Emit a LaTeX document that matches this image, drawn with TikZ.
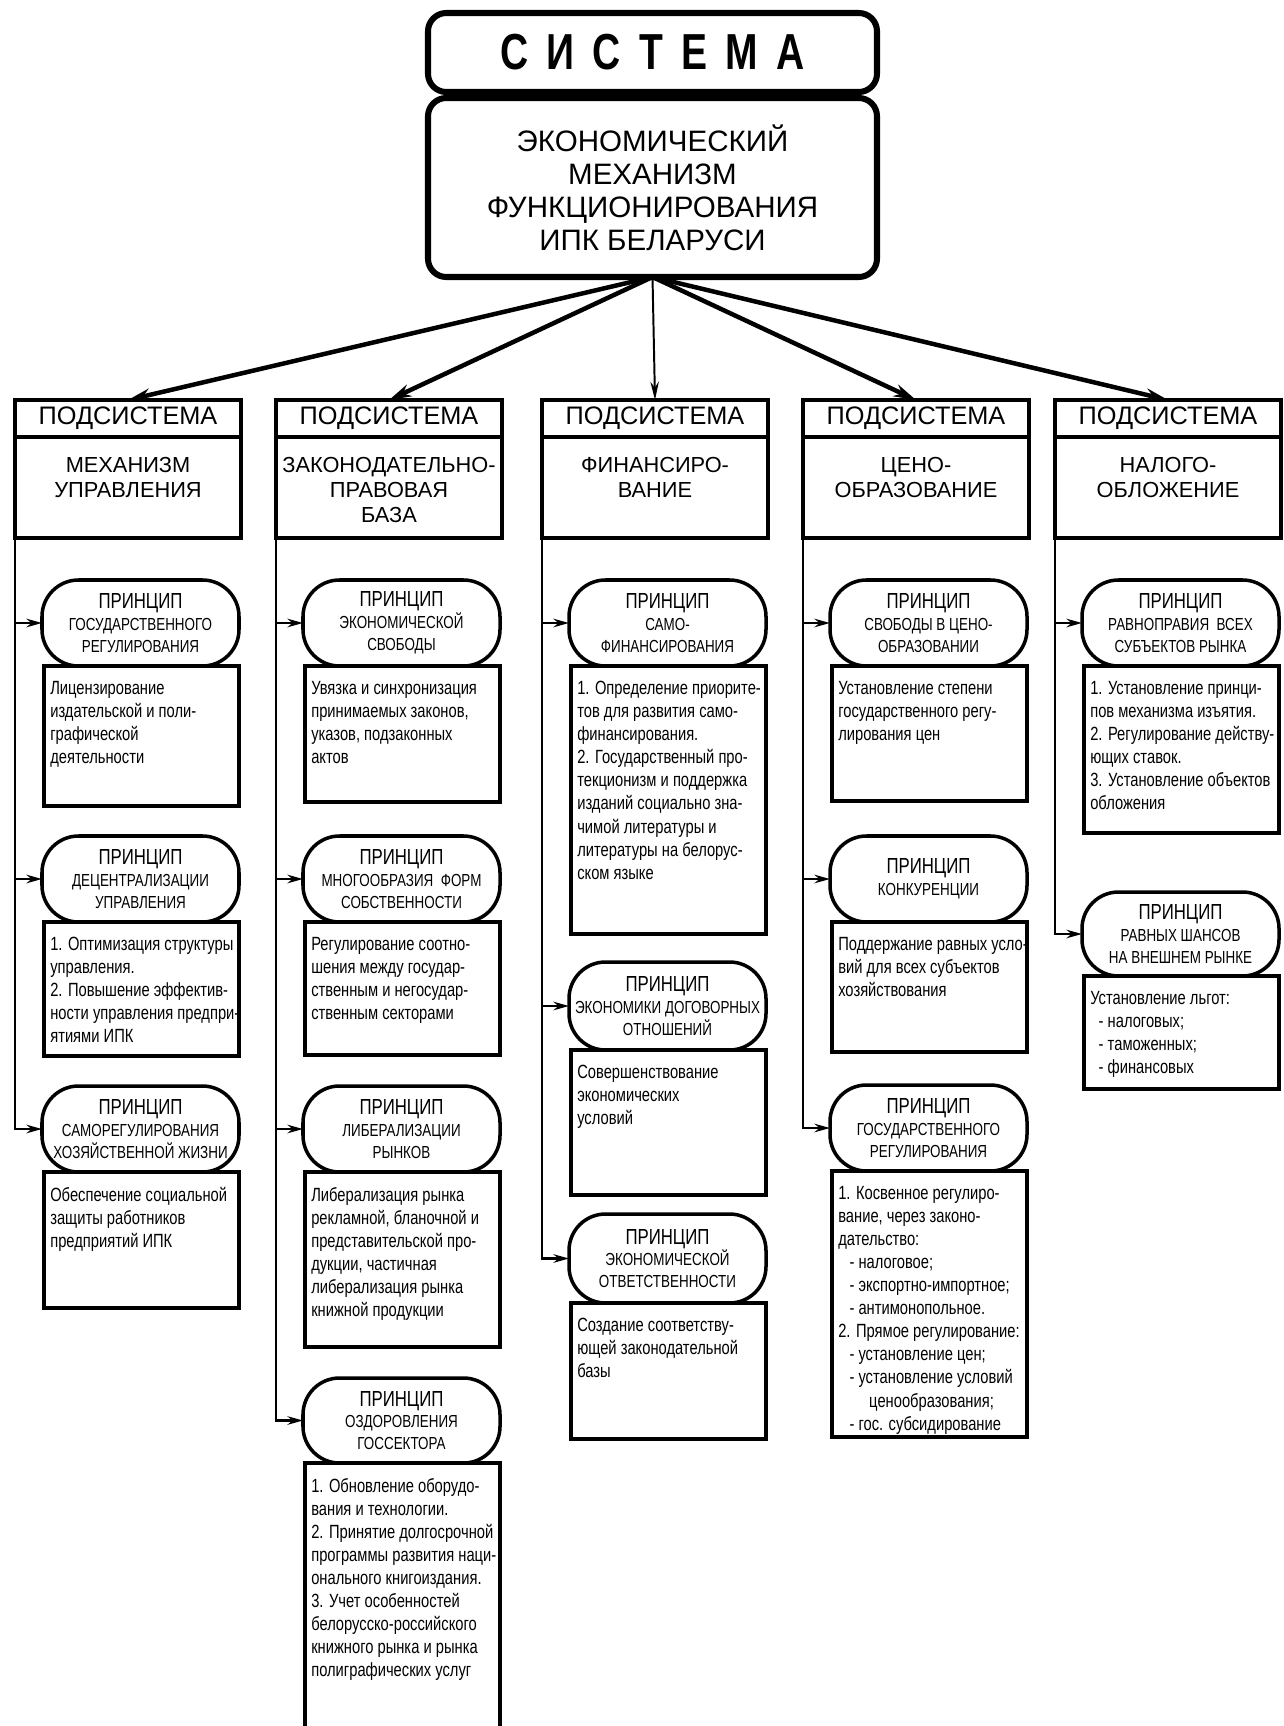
\documentclass[tikz,border=0pt]{standalone}
\usepackage{fontspec}
\setmainfont{Liberation Sans}
\newfontfamily\narfont[FakeStretch=0.77]{Liberation Sans}
\newfontfamily\sysfont[FakeStretch=0.77]{Liberation Sans}
\usetikzlibrary{arrows.meta}
\newlength\pxl
\setlength\pxl{0.025cm}
\newcommand\prn{{\fontsize{15.5}{16}\selectfont ПРИНЦИП}}

\begin{document}
\begin{tikzpicture}[x=0.025cm, y=-0.025cm,
    sysbox/.style={draw, line width=4.3pt, rounded corners=13pt, anchor=north west,
      inner sep=0pt, outer sep=0pt, minimum width=449*\pxl, align=center},
    head/.style={draw, line width=2.8pt, anchor=north west, inner sep=0pt, outer sep=0pt,
      minimum width=226*\pxl, minimum height=37*\pxl, font=\fontsize{18}{20}\selectfont},
    body/.style={draw, line width=2.8pt, anchor=north west, inner sep=0pt, outer sep=0pt,
      minimum width=226*\pxl, minimum height=101*\pxl},
    btxt/.style={anchor=north, align=center, inner sep=0pt, yshift=-20*\pxl,
      font=\fontsize{15.5}{17.8}\selectfont},
    princ/.style={draw, line width=2.5pt, rounded corners=26pt, anchor=north west,
      inner sep=0pt, outer sep=0pt, minimum width=197*\pxl, minimum height=86*\pxl,
      align=center, font=\narfont\fontsize{12.4}{15.5}\selectfont},
    tbox/.style={draw, line width=2.8pt, anchor=north west, inner sep=0pt, outer sep=0pt,
      minimum width=195*\pxl},
    ttxt/.style={anchor=north west, align=left, inner xsep=6*\pxl, inner ysep=15*\pxl,
      font=\narfont\fontsize{13.6}{16.4}\selectfont},
    link/.style={line width=2pt, -{Stealth[length=11pt, width=6pt]}},
    fan/.style={line width=3.2pt, -{Stealth[length=16pt, width=9pt]}},
    fanthin/.style={line width=1.4pt, -{Stealth[length=13pt, width=6pt]}}]

\useasboundingbox (0,0) rectangle (1283,1726);

% top of the scheme
\node[sysbox, minimum height=79*\pxl, font=\sysfont\bfseries\fontsize{36}{38}\selectfont] (sys) at (428,13)
  {С\hspace{13pt}И\hspace{13pt}С\hspace{13pt}Т\hspace{13pt}Е\hspace{13pt}М\hspace{13pt}А};
\node[sysbox, minimum height=179*\pxl, font=\fontsize{21}{23.5}\selectfont] (mech) at (428,98)
  {ЭКОНОМИЧЕСКИЙ\\МЕХАНИЗМ\\ФУНКЦИОНИРОВАНИЯ\\ИПК БЕЛАРУСИ};

% subsystems
\foreach \n/\x in {1/15, 2/276, 3/542, 4/803, 5/1055} {
  \node[head] (h\n) at (\x,400) {ПОДСИСТЕМА};
  \node[body] (s\n) at (\x,437) {};
}
\node[btxt] (s1x) at (s1.north) {МЕХАНИЗМ\\УПРАВЛЕНИЯ};
\node[btxt] (s2x) at (s2.north) {ЗАКОНОДАТЕЛЬНО-\\ПРАВОВАЯ\\БАЗА};
\node[btxt] (s3x) at (s3.north) {ФИНАНСИРО-\\ВАНИЕ};
\node[btxt] (s4x) at (s4.north) {ЦЕНО-\\ОБРАЗОВАНИЕ};
\node[btxt] (s5x) at (s5.north) {НАЛОГО-\\ОБЛОЖЕНИЕ};

\foreach \n in {1,2,4,5} \draw[fan] (mech.south) -- (h\n.north);
\draw[fanthin] (mech.south) -- (h3.north);

% column 1
\node[princ] (p11) at (42,580) {\prn\\ГОСУДАРСТВЕННОГО\\РЕГУЛИРОВАНИЯ};
\node[tbox, minimum height=140*\pxl] (t11) at (44,666) {};
\node[ttxt] (t11x) at (t11.north west) {Лицензирование\\издательской и поли-\\графической\\деятельности};
\node[princ] (p12) at (42,836) {\prn\\ДЕЦЕНТРАЛИЗАЦИИ\\УПРАВЛЕНИЯ};
\node[tbox, minimum height=134*\pxl] (t12) at (44,922) {};
\node[ttxt] (t12x) at (t12.north west) {1. Оптимизация структуры\\управления.\\2. Повышение эффектив-\\ности управления предпри-\\ятиями ИПК};
\node[princ] (p13) at (42,1086) {\prn\\САМОРЕГУЛИРОВАНИЯ\\ХОЗЯЙСТВЕННОЙ ЖИЗНИ};
\node[tbox, minimum height=136*\pxl] (t13) at (44,1172) {};
\node[ttxt] (t13x) at (t13.north west) {Обеспечение социальной\\защиты работников\\предприятий ИПК};

% column 2
\node[princ] (p21) at (303,580) {\prn\\ЭКОНОМИЧЕСКОЙ\\СВОБОДЫ};
\node[tbox, minimum height=136*\pxl] (t21) at (305,666) {};
\node[ttxt] (t21x) at (t21.north west) {Увязка и синхронизация\\принимаемых законов,\\указов, подзаконных\\актов};
\node[princ] (p22) at (303,836) {\prn\\МНОГООБРАЗИЯ~ ФОРМ\\СОБСТВЕННОСТИ};
\node[tbox, minimum height=133*\pxl] (t22) at (305,922) {};
\node[ttxt] (t22x) at (t22.north west) {Регулирование соотно-\\шения между государ-\\ственным и негосудар-\\ственным секторами};
\node[princ] (p23) at (303,1086) {\prn\\ЛИБЕРАЛИЗАЦИИ\\РЫНКОВ};
\node[tbox, minimum height=175*\pxl] (t23) at (305,1172) {};
\node[ttxt] (t23x) at (t23.north west) {Либерализация рынка\\рекламной, бланочной и\\представительской про-\\дукции, частичная\\либерализация рынка\\книжной продукции};
\node[princ, minimum height=85*\pxl] (p24) at (303,1378) {\prn\\ОЗДОРОВЛЕНИЯ\\ГОССЕКТОРА};
\node[tbox, minimum height=285*\pxl] (t24) at (305,1463) {};
\node[ttxt] (t24x) at (t24.north west) {1. Обновление оборудо-\\вания и технологии.\\2. Принятие долгосрочной\\программы развития наци-\\онального книгоиздания.\\3. Учет особенностей\\белорусско-российского\\книжного рынка и рынка\\полиграфических услуг};

% column 3
\node[princ] (p31) at (569,580) {\prn\\САМО-\\ФИНАНСИРОВАНИЯ};
\node[tbox, minimum height=268*\pxl] (t31) at (571,666) {};
\node[ttxt] (t31x) at (t31.north west) {1. Определение приорите-\\тов для развития само-\\финансирования.\\2. Государственный про-\\текционизм и поддержка\\изданий социально зна-\\чимой литературы и\\литературы на белорус-\\ском языке};
\node[princ, minimum height=88*\pxl] (p32) at (569,962) {\prn\\ЭКОНОМИКИ ДОГОВОРНЫХ\\ОТНОШЕНИЙ};
\node[tbox, minimum height=145*\pxl] (t32) at (571,1050) {};
\node[ttxt] (t32x) at (t32.north west) {Совершенствование\\экономических\\условий};
\node[princ, minimum height=89*\pxl] (p33) at (569,1214) {\prn\\ЭКОНОМИЧЕСКОЙ\\ОТВЕТСТВЕННОСТИ};
\node[tbox, minimum height=136*\pxl] (t33) at (571,1303) {};
\node[ttxt] (t33x) at (t33.north west) {Создание соответству-\\ющей законодательной\\базы};

% column 4
\node[princ] (p41) at (830,580) {\prn\\СВОБОДЫ В ЦЕНО-\\ОБРАЗОВАНИИ};
\node[tbox, minimum height=135*\pxl] (t41) at (832,666) {};
\node[ttxt] (t41x) at (t41.north west) {Установление степени\\государственного регу-\\лирования цен};
\node[princ] (p42) at (830,836) {\prn\\КОНКУРЕНЦИИ};
\node[tbox, minimum height=130*\pxl] (t42) at (832,922) {};
\node[ttxt] (t42x) at (t42.north west) {Поддержание равных усло-\\вий для всех субъектов\\хозяйствования};
\node[princ] (p43) at (830,1085) {\prn\\ГОСУДАРСТВЕННОГО\\РЕГУЛИРОВАНИЯ};
\node[tbox, minimum height=266*\pxl] (t43) at (832,1171) {};
\node[ttxt] (t43x) at (t43.north west) {1. Косвенное регулиро-\\вание, через законо-\\дательство:\\\hspace*{8pt}- налоговое;\\\hspace*{8pt}- экспортно-импортное;\\\hspace*{8pt}- антимонопольное.\\2. Прямое регулирование:\\\hspace*{8pt}- установление цен;\\\hspace*{8pt}- установление условий\\\hspace*{22pt}ценообразования;\\\hspace*{8pt}- гос. субсидирование};

% column 5
\node[princ] (p51) at (1082,580) {\prn\\РАВНОПРАВИЯ~ ВСЕХ\\СУБЪЕКТОВ РЫНКА};
\node[tbox, minimum height=167*\pxl] (t51) at (1084,666) {};
\node[ttxt] (t51x) at (t51.north west) {1. Установление принци-\\пов механизма изъятия.\\2. Регулирование действу-\\ющих ставок.\\3. Установление объектов\\обложения};
\node[princ, minimum height=84*\pxl] (p52) at (1082,892) {\prn\\РАВНЫХ ШАНСОВ\\НА ВНЕШНЕМ РЫНКЕ};
\node[tbox, minimum height=113*\pxl] (t52) at (1084,976) {};
\node[ttxt] (t52x) at (t52.north west) {Установление льгот:\\\hspace*{6pt}- налоговых;\\\hspace*{6pt}- таможенных;\\\hspace*{6pt}- финансовых};

% branches
\foreach \p in {p11,p12,p13} \draw[link] (s1.south west) |- (\p.west);
\foreach \p in {p21,p22,p23,p24} \draw[link] (s2.south west) |- (\p.west);
\foreach \p in {p31,p32,p33} \draw[link] (s3.south west) |- (\p.west);
\foreach \p in {p41,p42,p43} \draw[link] (s4.south west) |- (\p.west);
\foreach \p in {p51,p52} \draw[link] (s5.south west) |- (\p.west);
\end{tikzpicture}
\end{document}
